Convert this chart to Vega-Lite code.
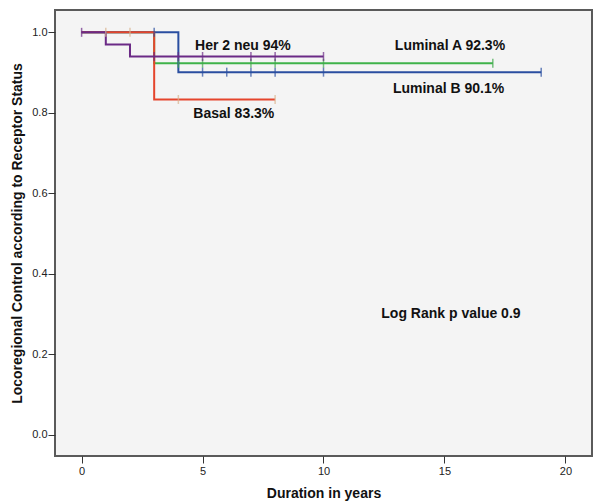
{
  "$schema": "https://vega.github.io/schema/vega-lite/v6.json",
  "width": 537,
  "height": 446,
  "autosize": {"type": "none"},
  "padding": {"left": 55, "top": 10, "right": 2, "bottom": 48},
  "background": "#ffffff",
  "config": {
    "view": {"fill": "#f4f4f4", "stroke": "#5a5a5a", "strokeWidth": 2},
    "font": "Liberation Sans",
    "axis": {
      "domain": false,
      "grid": false,
      "tickColor": "#333333",
      "tickSize": 7,
      "tickWidth": 1,
      "labelColor": "#222222",
      "labelFont": "Liberation Sans",
      "labelFontSize": 11,
      "titleFont": "Liberation Sans",
      "titleFontSize": 14,
      "titleFontWeight": "bold",
      "titleColor": "#111111"
    }
  },
  "datasets": {
    "survival": [
      {"group": "Luminal A", "t": 0, "s": 1.0},
      {"group": "Luminal A", "t": 3, "s": 0.923},
      {"group": "Luminal A", "t": 17, "s": 0.923},
      {"group": "Luminal B", "t": 0, "s": 1.0},
      {"group": "Luminal B", "t": 4, "s": 0.901},
      {"group": "Luminal B", "t": 19, "s": 0.901},
      {"group": "Basal", "t": 0, "s": 1.0},
      {"group": "Basal", "t": 3, "s": 0.833},
      {"group": "Basal", "t": 8, "s": 0.833},
      {"group": "Her 2 neu", "t": 0, "s": 1.0},
      {"group": "Her 2 neu", "t": 1, "s": 0.97},
      {"group": "Her 2 neu", "t": 2, "s": 0.94},
      {"group": "Her 2 neu", "t": 10, "s": 0.94}
    ],
    "censored": [
      {"group": "Luminal A", "t": 4, "s": 0.923},
      {"group": "Luminal A", "t": 5, "s": 0.923},
      {"group": "Luminal A", "t": 7, "s": 0.923},
      {"group": "Luminal A", "t": 8, "s": 0.923},
      {"group": "Luminal A", "t": 10, "s": 0.923},
      {"group": "Luminal A", "t": 17, "s": 0.923},
      {"group": "Luminal B", "t": 3, "s": 1.0},
      {"group": "Luminal B", "t": 5, "s": 0.901},
      {"group": "Luminal B", "t": 6, "s": 0.901},
      {"group": "Luminal B", "t": 7, "s": 0.901},
      {"group": "Luminal B", "t": 8, "s": 0.901},
      {"group": "Luminal B", "t": 10, "s": 0.901},
      {"group": "Luminal B", "t": 19, "s": 0.901},
      {"group": "Basal", "t": 1, "s": 1.0},
      {"group": "Basal", "t": 2, "s": 1.0},
      {"group": "Basal", "t": 4, "s": 0.833},
      {"group": "Basal", "t": 8, "s": 0.833},
      {"group": "Her 2 neu", "t": 0, "s": 1.0},
      {"group": "Her 2 neu", "t": 3, "s": 0.94},
      {"group": "Her 2 neu", "t": 4, "s": 0.94},
      {"group": "Her 2 neu", "t": 5, "s": 0.94},
      {"group": "Her 2 neu", "t": 7, "s": 0.94},
      {"group": "Her 2 neu", "t": 8, "s": 0.94},
      {"group": "Her 2 neu", "t": 10, "s": 0.94}
    ],
    "notes": [
      {"label": "Her 2 neu 94%", "t": 4.69, "s": 0.965},
      {"label": "Luminal A 92.3%", "t": 12.95, "s": 0.965},
      {"label": "Luminal B 90.1%", "t": 12.87, "s": 0.859},
      {"label": "Basal 83.3%", "t": 4.62, "s": 0.797},
      {"label": "Log Rank p value 0.9", "t": 12.39, "s": 0.299}
    ]
  },
  "encoding": {
    "x": {
      "field": "t",
      "type": "quantitative",
      "scale": {"domain": [-1.1, 21.1], "nice": false, "zero": false},
      "axis": {"values": [0, 5, 10, 15, 20], "title": "Duration in years", "labelPadding": 2, "titlePadding": 10}
    },
    "y": {
      "field": "s",
      "type": "quantitative",
      "scale": {"domain": [-0.053, 1.0555], "nice": false, "zero": false},
      "axis": {"values": [0, 0.2, 0.4, 0.6, 0.8, 1.0], "format": ".1f", "title": "Locoregional Control according to Receptor Status", "labelPadding": 1, "titlePadding": 7}
    }
  },
  "layer": [
    {
      "data": {"name": "survival"},
      "mark": {"type": "line", "interpolate": "step-after", "strokeWidth": 2},
      "encoding": {
        "color": {
          "field": "group",
          "type": "nominal",
          "scale": {"domain": ["Luminal A", "Luminal B", "Basal", "Her 2 neu"], "range": ["#3fb24a", "#2a4ea0", "#e5452c", "#6b2a86"]},
          "legend": null
        },
        "detail": {"field": "group"}
      }
    },
    {
      "data": {"name": "censored"},
      "mark": {"type": "tick", "orient": "vertical", "size": 9, "thickness": 1.5},
      "encoding": {
        "color": {
          "field": "group",
          "type": "nominal",
          "scale": {"domain": ["Luminal A", "Luminal B", "Basal", "Her 2 neu"], "range": ["#3fa84a", "#2a4ea0", "#d9b48f", "#6b2a86"]},
          "legend": null
        }
      }
    },
    {
      "data": {"name": "notes"},
      "mark": {"type": "text", "align": "left", "baseline": "middle", "font": "Liberation Sans", "fontSize": 14, "fontWeight": "bold", "color": "#111111"},
      "encoding": {"text": {"field": "label", "type": "nominal"}}
    }
  ],
  "resolve": {"scale": {"color": "independent"}}
}
